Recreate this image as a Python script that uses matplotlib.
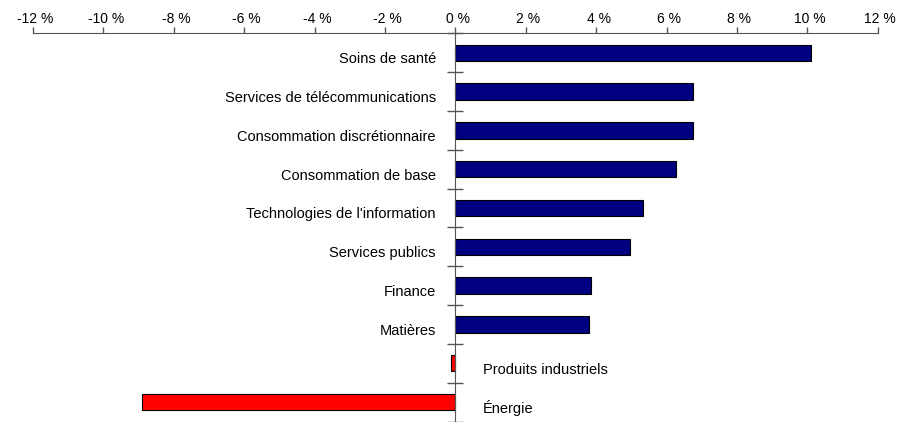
import matplotlib
matplotlib.use("Agg")
import matplotlib.pyplot as plt
import matplotlib.transforms as mtransforms
import numpy as np

categories = ["Soins de santé", "Services de télécommunications", "Consommation discrétionnaire",
              "Consommation de base", "Technologies de l'information", "Services publics",
              "Finance", "Matières", "Produits industriels", "Énergie"]
values = [10.1, 6.75, 6.75, 6.26, 5.34, 4.96, 3.86, 3.81, -0.12, -8.9]
xticks = [-12, -10, -8, -6, -4, -2, 0, 2, 4, 6, 8, 10, 12]

plt.rcParams['font.family'] = ['Liberation Sans', 'DejaVu Sans']

fig = plt.figure(figsize=(9, 4.22), dpi=100)
left_px, right_px, top_px, bot_px = 33.0, 877.7, 33.3, 421.5
ax = fig.add_axes([left_px/900, 1-bot_px/422, (right_px-left_px)/900, (bot_px-top_px)/422])

n = len(categories)
ypos = np.arange(n)
colors = ['#000080' if v >= 0 else '#FF0000' for v in values]
ax.barh(ypos, values, height=0.42, color=colors, edgecolor='black', linewidth=0.8, zorder=3)

ax.set_xlim(-12, 12)
ax.set_ylim(n - 0.5, -0.5)

ax.xaxis.tick_top()
ax.set_xticks(xticks)
ax.set_xticklabels([f"{t} %" for t in xticks], fontsize=10)
ax.tick_params(axis='x', direction='out', length=4, width=1, color='#555555', pad=1.5)
shift = mtransforms.ScaledTranslation(2.5/100, 0, fig.dpi_scale_trans)
for lab in ax.get_xticklabels():
    lab.set_transform(lab.get_transform() + shift)

for s in ['bottom', 'right']:
    ax.spines[s].set_visible(False)
ax.spines['top'].set_color('#555555')
ax.spines['left'].set_position(('data', 0))
ax.spines['left'].set_color('#555555')
ax.spines['left'].set_zorder(4)

ax.set_yticks(np.arange(n + 1) - 0.5)
ax.set_yticklabels([])
ax.tick_params(axis='y', direction='inout', length=12, width=1, color='#555555')

for i, (c, v) in enumerate(zip(categories, values)):
    if v >= 0:
        ax.annotate(c, xy=(0, i), xytext=(-14, -7.5), textcoords='offset points',
                    ha='right', va='baseline', fontsize=10.5)
    else:
        ax.annotate(c, xy=(0, i), xytext=(20, -7.5), textcoords='offset points',
                    ha='left', va='baseline', fontsize=10.5)

fig.savefig("out.png", dpi=100)
